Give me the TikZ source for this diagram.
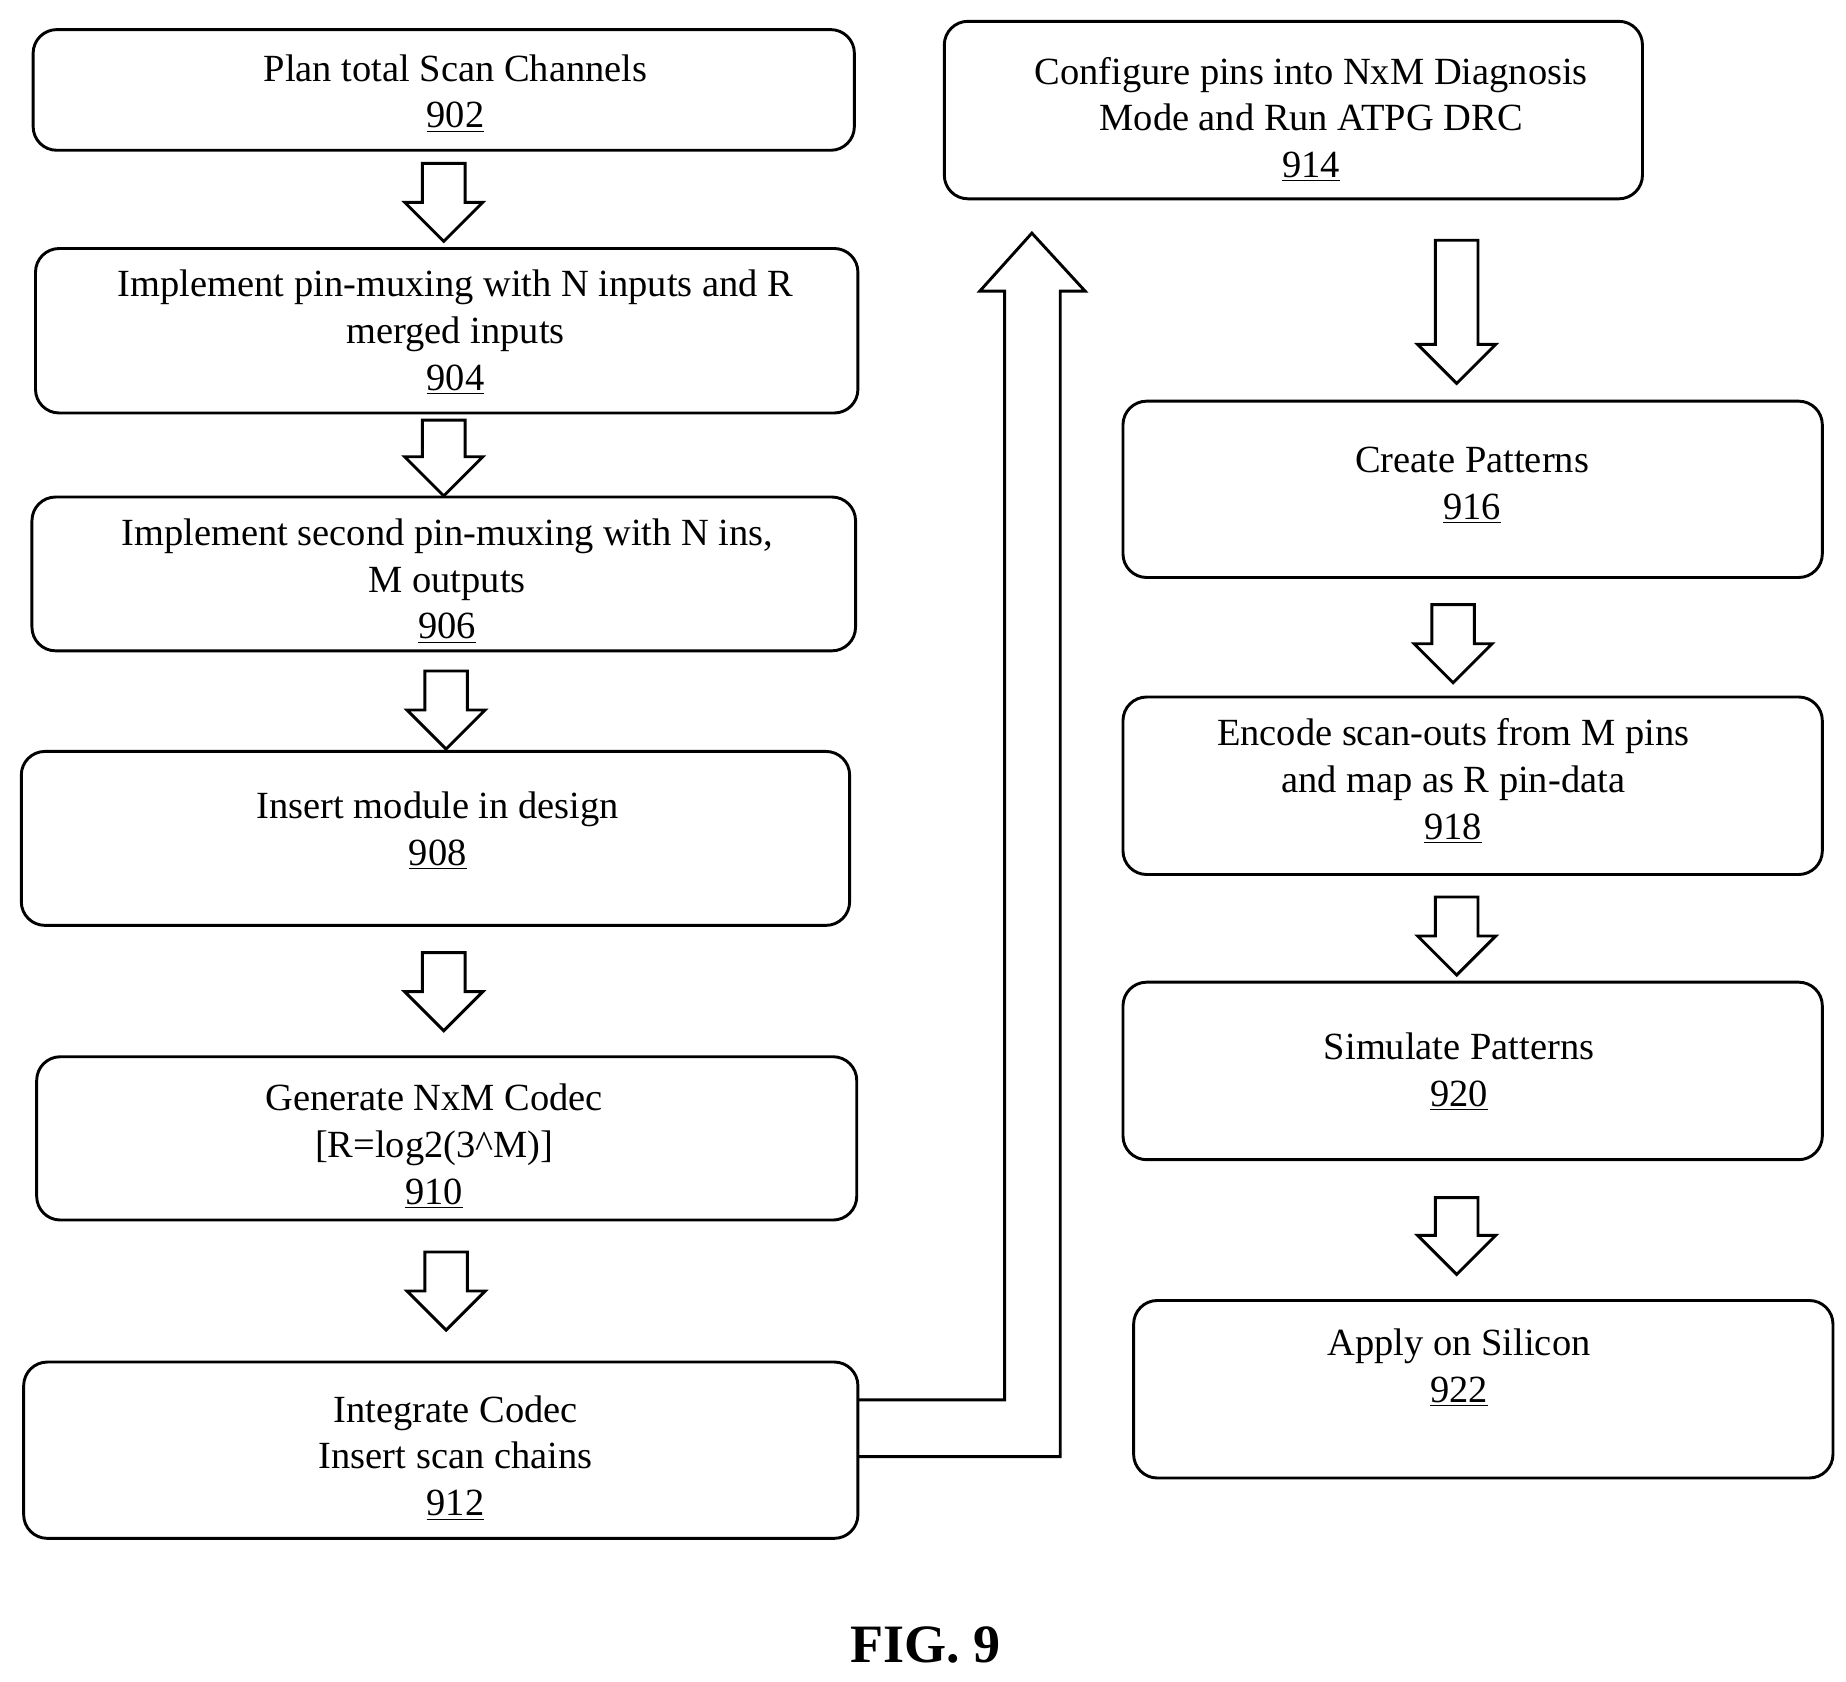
\documentclass[tikz,border=0pt]{standalone}
\usepackage{fontspec}
\setmainfont{Liberation Serif}
\begin{document}
\begin{tikzpicture}[x=0.02cm,y=-0.02cm,line join=miter,
  box/.style={draw,line width=1.4pt,rounded corners=0.4cm},
  txt/.style={align=center,font=\fontsize{18.5}{22.5}\selectfont,inner sep=0pt},
  harr/.style={draw,line width=1.4pt,fill=white},
]
\useasboundingbox (0,0) rectangle (1560,1421);
\newcommand\myharrow[3]{% x, ytop, ybot
  \draw[harr] (#1-18,#2) -- (#1+18,#2) -- (#1+18,#3-33) -- (#1+33,#3-33) -- (#1,#3) -- (#1-33,#3-33) -- (#1-18,#3-33) -- cycle;}
% boxes
\draw[box] (28,25) rectangle (722,127);
\node[txt] (b902) at (385,79) {Plan total Scan Channels\\ \underline{902}};
\draw[box] (30,210) rectangle (725,349);
\node[txt] (b904) at (385,281) {Implement pin-muxing with N inputs and R\\ merged inputs\\ \underline{904}};
\draw[box] (27,420) rectangle (723,550);
\node[txt] (b906) at (378,491) {Implement second pin-muxing with N ins,\\ M outputs\\ \underline{906}};
\draw[box] (18,635) rectangle (718,782);
\node[txt] (b908) at (370,702) {Insert module in design\\ \underline{908}};
\draw[box] (31,893) rectangle (724,1031);
\node[txt] (b910) at (367,969) {Generate NxM Codec\\ {[R=log2(3\^{}M)]}\\ \underline{910}};
\draw[box] (20,1151) rectangle (725,1300);
\node[txt] (b912) at (385,1232) {Integrate Codec\\ Insert scan chains\\ \underline{912}};
\draw[box] (798,18) rectangle (1388,168);
\node[txt] (b914) at (1108,101) {Configure pins into NxM Diagnosis\\ Mode and Run ATPG DRC\\ \underline{914}};
\draw[box] (949,339) rectangle (1540,488);
\node[txt] (b916) at (1244,410) {Create Patterns\\ \underline{916}};
\draw[box] (949,589) rectangle (1540,739);
\node[txt] (b918) at (1228,660) {Encode scan-outs from M pins\\ and map as R pin-data\\ \underline{918}};
\draw[box] (949,830) rectangle (1540,980);
\node[txt] (b920) at (1233,906) {Simulate Patterns\\ \underline{920}};
\draw[box] (958,1099) rectangle (1549,1249);
\node[txt] (b922) at (1233,1156) {Apply on Silicon\\ \underline{922}};
% arrows
\myharrow{375}{138}{204}
\myharrow{375}{355}{419}
\myharrow{377}{567}{633}
\myharrow{375}{805}{871}
\myharrow{377}{1058}{1124}
\myharrow{1231}{203}{324}
\myharrow{1228}{511}{577}
\myharrow{1231}{758}{824}
\myharrow{1231}{1012}{1077}
% big up arrow
\draw[line width=1.4pt] (725,1231) -- (896,1231) -- (896,246) -- (917,246) -- (872,197) -- (828,246) -- (849,246) -- (849,1183) -- (725,1183);
\node[font=\bfseries\fontsize{26}{30}\selectfont] (fig) at (782,1390) {FIG. 9};
\end{tikzpicture}
\end{document}
